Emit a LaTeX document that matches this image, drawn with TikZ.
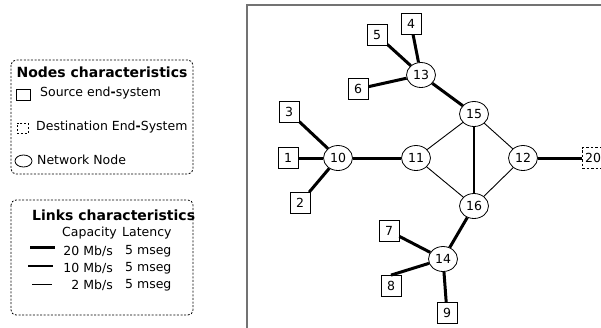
\documentclass[tikz,border=0pt]{standalone}
\usepackage{fontspec}
\setmainfont{DejaVu Sans}
\usetikzlibrary{shapes.geometric}
\begin{document}
\begin{tikzpicture}[x=1pt,y=-1pt,
  every node/.style={font=\fontsize{12.5}{14}\selectfont},
  endsys/.style={draw, rectangle, minimum width=20pt, minimum height=21pt, inner sep=0pt, fill=white, line width=0.8pt},
  destsys/.style={endsys, dash pattern=on 2.5pt off 2pt},
  router/.style={draw, ellipse, minimum width=29pt, minimum height=25pt, inner sep=0pt, fill=white, line width=0.8pt},
  fast/.style={line width=3pt},
  medium/.style={line width=1.7pt},
  slow/.style={line width=0.9pt},
  legendbox/.style={draw, dash pattern=on 2pt off 1.6pt, rounded corners=5pt, line width=0.8pt},
  legtext/.style={anchor=west, inner sep=0pt},
  legtitle/.style={inner sep=0pt, font=\fontsize{14}{16}\selectfont\bfseries},
  frameline/.style={draw=black!55, line width=1.4pt},
  ]
\path[use as bounding box] (0,0) rectangle (601,327);
\begin{scope}
\clip (0,0) rectangle (601,327);

% ---------- legend: node kinds ----------
\draw[legendbox] (11,60) rectangle (193,174);
\node[legtitle] (ntitle) at (102,72) {Nodes characteristics};
\node[draw, minimum width=14pt, minimum height=11pt, inner sep=0pt, line width=0.8pt] (lsrc) at (23,94.5) {};
\node[legtext] (tsrc) at (40,93) {Source end{\bfseries-}system};
\node[draw, dash pattern=on 2pt off 1.8pt, minimum width=11pt, minimum height=10pt, inner sep=0pt, line width=0.8pt] (ldst) at (22.5,128) {};
\node[legtext] (tdst) at (36,127) {Destination End{\bfseries-}System};
\node[draw, ellipse, minimum width=17pt, minimum height=12pt, inner sep=0pt, line width=0.8pt] (lnet) at (23.5,161) {};
\node[legtext] (tnet) at (37,160) {Network Node};

% ---------- legend: link kinds ----------
\draw[legendbox] (11,200) rectangle (193,315);
\node[legtitle, anchor=west] (ltitle) at (32,215) {Links characteristics};
\node[legtext] (hcap) at (62,233) {Capacity};
\node[legtext] (hlat) at (122,233) {Latency};
\coordinate (a1) at (30,247); \coordinate (b1) at (55,247);
\coordinate (a2) at (28,266); \coordinate (b2) at (53,266);
\coordinate (a3) at (32,284); \coordinate (b3) at (52,284);
\draw[fast] (a1) -- (b1);
\draw[medium, line width=1.5pt] (a2) -- (b2);
\draw[slow] (a3) -- (b3);
\node[anchor=east, inner sep=0pt] (c1) at (113,251) {20 Mb/s};
\node[anchor=east, inner sep=0pt] (c2) at (113,268) {10 Mb/s};
\node[anchor=east, inner sep=0pt] (c3) at (113,285) {2 Mb/s};
\node[legtext] (l1) at (125,251) {5 mseg};
\node[legtext] (l2) at (125,268) {5 mseg};
\node[legtext] (l3) at (125,285) {5 mseg};

% ---------- frame of the network area ----------
\draw[frameline] (247,330) -- (247,5) -- (605,5);

% ---------- network nodes ----------
\node[router] (n10) at (338,158) {10};
\node[router] (n11) at (416,158) {11};
\node[router] (n12) at (523,158) {12};
\node[router] (n13) at (421,75) {13};
\node[router] (n14) at (443,259) {14};
\node[router] (n15) at (474,114) {15};
\node[router] (n16) at (474,206) {16};

\node[endsys] (s1) at (288,158) {1};
\node[endsys] (s2) at (300,203) {2};
\node[endsys] (s3) at (289,112) {3};
\node[endsys] (s4) at (411,24) {4};
\node[endsys] (s5) at (377,35) {5};
\node[endsys] (s6) at (358,89) {6};
\node[endsys] (s7) at (389,231) {7};
\node[endsys] (s8) at (391,286) {8};
\node[endsys] (s9) at (447,313) {9};
\node[destsys, minimum width=22pt] (d20) at (593,158) {20};

% ---------- links ----------
\draw[fast] (s1) -- (n10);
\draw[fast] (s2) -- (n10);
\draw[fast] (s3) -- (n10);
\draw[fast] (n10) -- (n11);
\draw[fast] (n12) -- (d20);
\draw[fast] (s4) -- (n13);
\draw[fast] (s5) -- (n13);
\draw[fast] (s6) -- (n13);
\draw[fast] (n13) -- (n15);
\draw[fast] (n16) -- (n14);
\draw[fast] (s7) -- (n14);
\draw[fast] (s8.north) -- (n14);
\draw[fast] (s9) -- (n14);
\draw[medium] (n15) -- (n16);
\draw[slow] (n15) -- (n11);
\draw[slow] (n15) -- (n12);
\draw[slow] (n11) -- (n16);
\draw[slow] (n12) -- (n16);
\end{scope}
\end{tikzpicture}
\end{document}
